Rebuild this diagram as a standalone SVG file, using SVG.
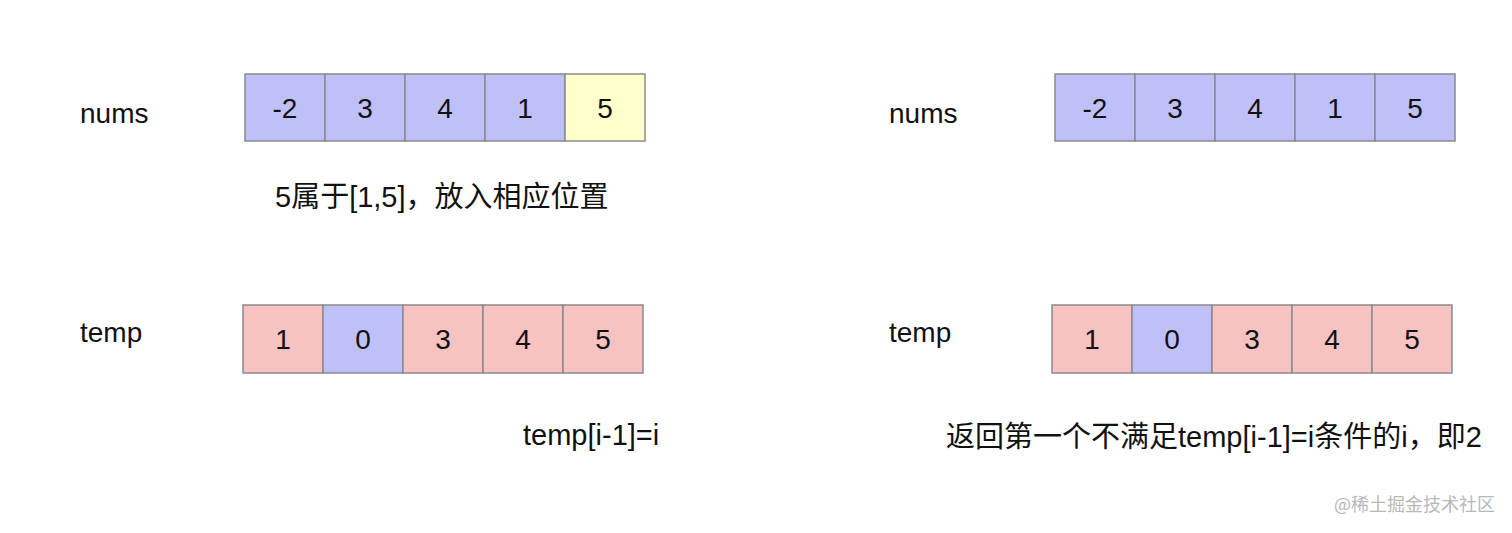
<svg xmlns="http://www.w3.org/2000/svg" width="1512" height="533" viewBox="0 0 1512 533">
<style>
.c{stroke:#8a8a8a;stroke-width:1.5}
.b{fill:#c0c0f8}
.p{fill:#f6c2c2}
.y{fill:#ffffcc}
.n{font-family:"Liberation Sans","Noto Sans CJK SC",sans-serif;font-size:28px;fill:#111;text-anchor:middle}
.l{font-family:"Liberation Sans","Noto Sans CJK SC",sans-serif;font-size:28px;fill:#111}
.t{font-family:"Liberation Sans","Noto Sans CJK SC",sans-serif;font-size:29px;fill:#111}
.w{font-family:"Noto Sans CJK SC",sans-serif;font-size:18px;fill:#b8b8b8}
</style>
<rect width="1512" height="533" fill="#fff"/>
<g id="nums-left">
<rect class="c b" x="245" y="74" width="80" height="67"/><text class="n" x="285" y="118">-2</text>
<rect class="c b" x="325" y="74" width="80" height="67"/><text class="n" x="365" y="118">3</text>
<rect class="c b" x="405" y="74" width="80" height="67"/><text class="n" x="445" y="118">4</text>
<rect class="c b" x="485" y="74" width="80" height="67"/><text class="n" x="525" y="118">1</text>
<rect class="c y" x="565" y="74" width="80" height="67"/><text class="n" x="605" y="118">5</text>
</g>
<g id="temp-left">
<rect class="c p" x="243" y="305" width="80" height="68"/><text class="n" x="283" y="349">1</text>
<rect class="c b" x="323" y="305" width="80" height="68"/><text class="n" x="363" y="349">0</text>
<rect class="c p" x="403" y="305" width="80" height="68"/><text class="n" x="443" y="349">3</text>
<rect class="c p" x="483" y="305" width="80" height="68"/><text class="n" x="523" y="349">4</text>
<rect class="c p" x="563" y="305" width="80" height="68"/><text class="n" x="603" y="349">5</text>
</g>
<g id="nums-right">
<rect class="c b" x="1055" y="74" width="80" height="67"/><text class="n" x="1095" y="118">-2</text>
<rect class="c b" x="1135" y="74" width="80" height="67"/><text class="n" x="1175" y="118">3</text>
<rect class="c b" x="1215" y="74" width="80" height="67"/><text class="n" x="1255" y="118">4</text>
<rect class="c b" x="1295" y="74" width="80" height="67"/><text class="n" x="1335" y="118">1</text>
<rect class="c b" x="1375" y="74" width="80" height="67"/><text class="n" x="1415" y="118">5</text>
</g>
<g id="temp-right">
<rect class="c p" x="1052" y="305" width="80" height="68"/><text class="n" x="1092" y="349">1</text>
<rect class="c b" x="1132" y="305" width="80" height="68"/><text class="n" x="1172" y="349">0</text>
<rect class="c p" x="1212" y="305" width="80" height="68"/><text class="n" x="1252" y="349">3</text>
<rect class="c p" x="1292" y="305" width="80" height="68"/><text class="n" x="1332" y="349">4</text>
<rect class="c p" x="1372" y="305" width="80" height="68"/><text class="n" x="1412" y="349">5</text>
</g>
<g id="labels">
<text class="l" x="80" y="123">nums</text>
<text class="l" x="80" y="342">temp</text>
<text class="l" x="889" y="123">nums</text>
<text class="l" x="889" y="342">temp</text>
<text class="t" x="275" y="207">5属于[1,5]，放入相应位置</text>
<text class="t" x="523" y="445">temp[i-1]=i</text>
<text class="t" x="946" y="447">返回第一个不满足temp[i-1]=i条件的i，即2</text>
<text class="w" x="1334" y="511">@稀土掘金技术社区</text>
</g>
</svg>
